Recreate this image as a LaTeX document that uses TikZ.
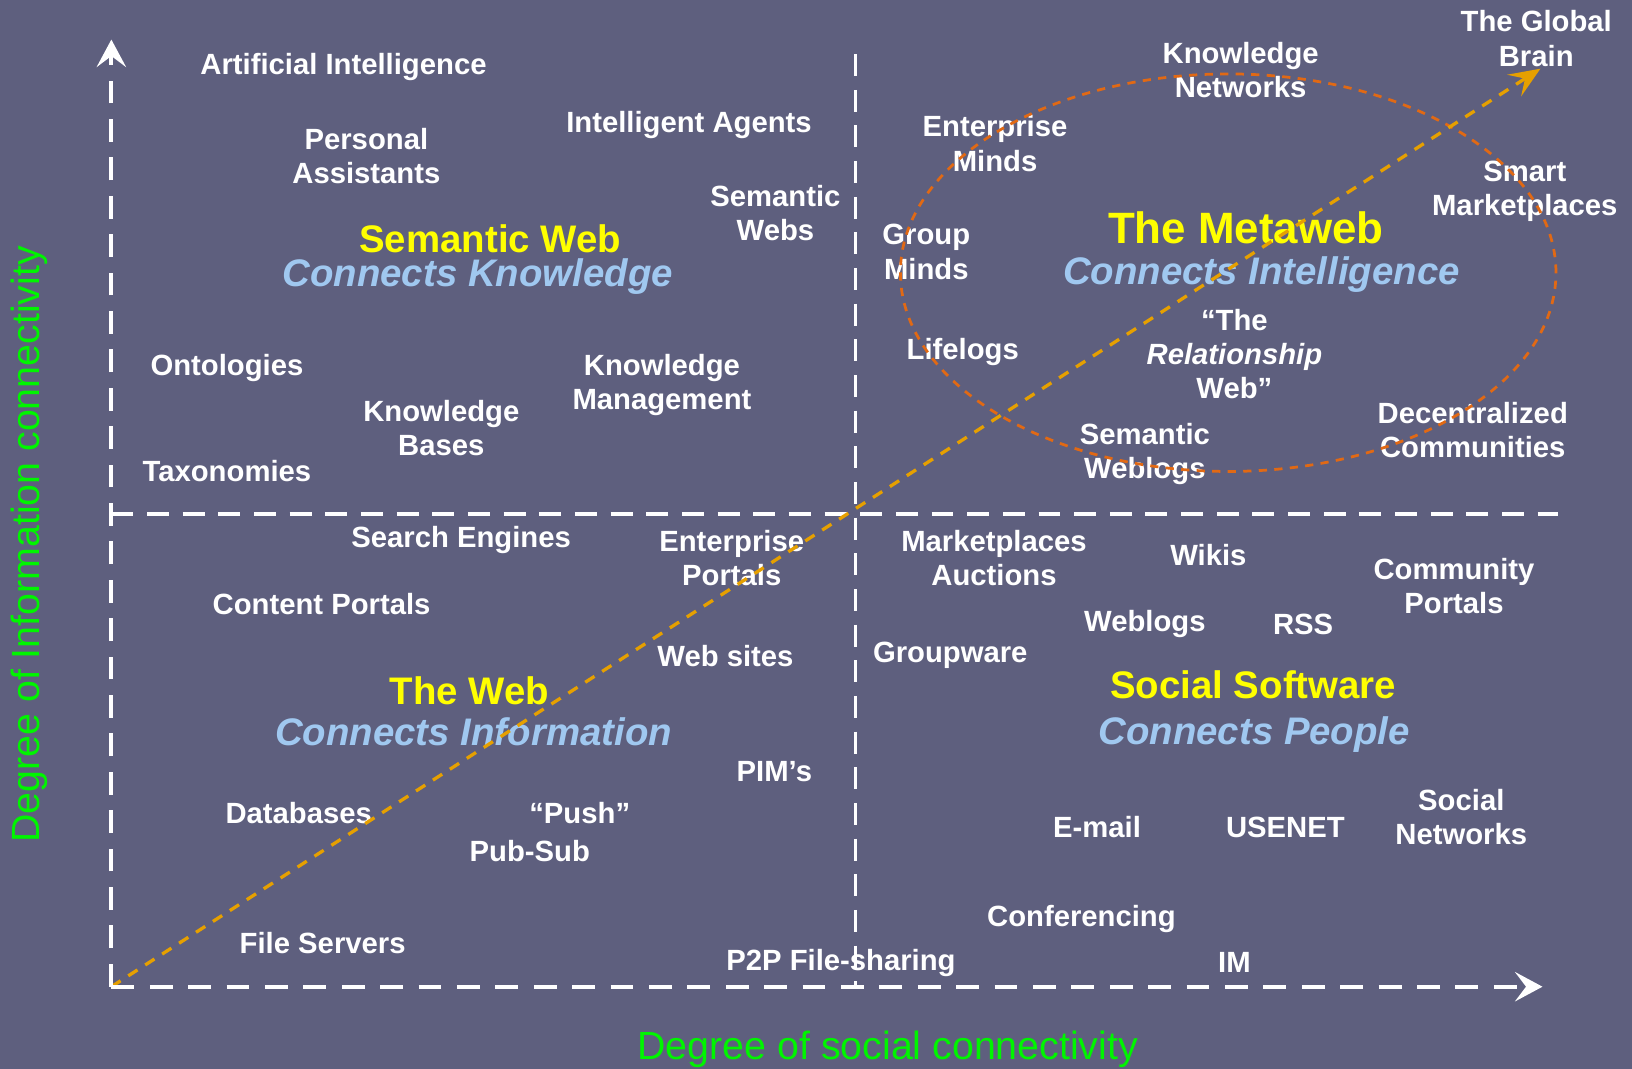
\documentclass[tikz,border=0pt]{standalone}
\usepackage{fontspec}
\setmainfont{Liberation Sans}
\usetikzlibrary{arrows.meta}

\definecolor{slate}{RGB}{94,95,126}
\definecolor{headyellow}{RGB}{255,255,0}
\definecolor{subblue}{RGB}{160,200,240}
\definecolor{axisgreen}{RGB}{0,245,0}
\definecolor{ringorange}{RGB}{225,105,20}
\definecolor{trendgold}{RGB}{230,160,0}

\tikzset{
  item/.style={text=white, font=\bfseries\fontsize{16}{18.7}\selectfont, align=center, inner sep=0pt},
  quadtitle/.style={text=headyellow, font=\bfseries\fontsize{21}{25}\selectfont, inner sep=0pt},
  quadsub/.style={text=subblue, font=\bfseries\itshape\fontsize{21}{25}\selectfont, inner sep=0pt},
  axislabel/.style={text=axisgreen, font=\fontsize{21.5}{25}\selectfont, inner sep=0pt},
  axisline/.style={white, line width=2.2pt, dash pattern=on 12.5pt off 8.5pt, -{Stealth[length=15pt,width=16pt,inset=6pt]}},
  divider/.style={white, line width=2pt, dash pattern=on 12pt off 7.5pt},
  trend/.style={trendgold, line width=1.8pt, dash pattern=on 6pt off 5pt, -{Stealth[length=17pt,width=14pt,inset=7pt]}},
  ring/.style={ringorange, line width=1.5pt, dash pattern=on 4.5pt off 4pt}
}

\begin{document}
\begin{tikzpicture}[x=0.02cm, y=-0.02cm]

\fill[slate] (0,0) rectangle (1568,1027);
\useasboundingbox (0,0) rectangle (1568,1027);

% semantic web
\node[item] (ai) at (330,64) {Artificial Intelligence};
\node[item] (assist) at (352,150) {Personal\\Assistants};
\node[item] (agents) at (662,120) {Intelligent Agents};
\node[item] (semwebs) at (745,205) {Semantic\\Webs};
\node[quadtitle] (semtitle) at (471,229) {Semantic Web};
\node[quadsub] (semsub) at (459,266) {Connects Knowledge};
\node[item] (onto) at (218,354) {Ontologies};
\node[item] (kbases) at (424,411) {Knowledge\\Bases};
\node[item] (kmgmt) at (636,370) {Knowledge\\Management};
\node[item] (taxo) at (218,453) {Taxonomies};

% metaweb
\node[item] (brain) at (1476,37) {The Global\\Brain};
\node[item] (knets) at (1192,67) {Knowledge\\Networks};
\node[item] (entminds) at (956,138) {Enterprise\\Minds};
\node[item] (smart) at (1465,184) {Smart\\Marketplaces};
\node[item] (groupminds) at (890,242) {Group\\Minds};
\node[quadtitle, font=\bfseries\fontsize{24}{28}\selectfont] (metatitle) at (1197,219) {The Metaweb};
\node[quadsub] (metasub) at (1212,264) {Connects Intelligence};
\node[item] (lifelogs) at (925,338) {Lifelogs};
\node[item] (relweb) at (1186,340) {“The\\\textit{Relationship}\\Web”};
\node[item] (semblogs) at (1100,436) {Semantic\\Weblogs};
\node[item] (decent) at (1415,413) {Decentralized\\Communities};

% the web
\node[item] (search) at (443,519) {Search Engines};
\node[item] (entportals) at (703,536) {Enterprise\\Portals};
\node[item] (content) at (309,580) {Content Portals};
\node[item] (websites) at (697,630) {Web sites};
\node[quadtitle] (webtitle) at (451,664) {The Web};
\node[quadsub] (websub) at (455,703) {Connects Information};
\node[item] (pims) at (744,741) {PIM’s};
\node[item] (dbs) at (287,781) {Databases};
\node[item] (push) at (557,781) {“Push”};
\node[item] (pubsub) at (509,818) {Pub-Sub};
\node[item] (files) at (310,906) {File Servers};
\node[item] (ptwop) at (808,925) {P2P File-sharing};

% social software
\node[item] (markets) at (955,536) {Marketplaces\\Auctions};
\node[item] (wikis) at (1161,533) {Wikis};
\node[item] (community) at (1397,563) {Community\\Portals};
\node[item] (weblogs) at (1100,600) {Weblogs};
\node[item] (rss) at (1252,600) {RSS};
\node[item] (groupware) at (913,630) {Groupware};
\node[quadtitle] (soctitle) at (1204,658) {Social Software};
\node[quadsub] (socsub) at (1205,706) {Connects People};
\node[item] (socnets) at (1404,785) {Social\\Networks};
\node[item] (email) at (1054,795) {E-mail};
\node[item] (usenet) at (1235,795) {USENET};
\node[item] (conf) at (1039,883) {Conferencing};
\node[item] (im) at (1186,925) {IM};

\node[axislabel] (xlabel) at (853,1008) {Degree of social connectivity};
\node[axislabel, rotate=90] (ylabel) at (28,523) {Degree of Information connectivity};

\coordinate (origin) at (107,948);
\coordinate (ytip) at (107,38);
\coordinate (xtip) at (1482,948);
\coordinate (vtop) at (822,52);
\coordinate (vbot) at (822,948);
\coordinate (hleft) at (107,494);
\coordinate (hright) at (1497,494);
\coordinate (braintip) at (1480,66);

\draw[divider] (vtop) -- (vbot);
\draw[divider] (hleft) -- (hright);
\draw[ring] (1180,262) ellipse [x radius=6.3cm, y radius=3.82cm];
\draw[trend] (origin) -- (braintip);
\draw[axisline] (origin) -- (ytip);
\draw[axisline] (origin) -- (xtip);

\end{tikzpicture}
\end{document}
